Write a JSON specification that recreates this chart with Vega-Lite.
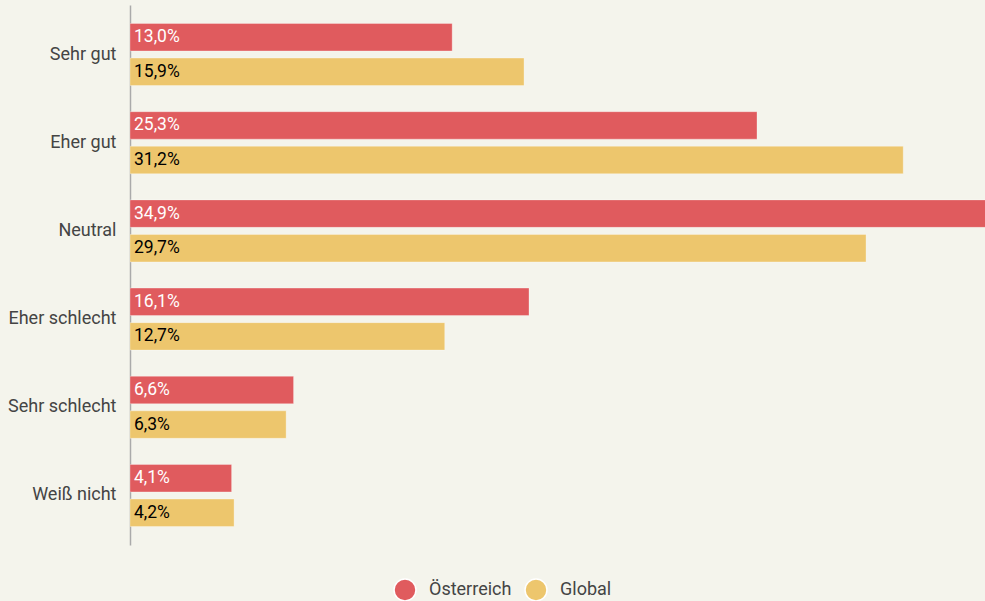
{
  "$schema": "https://vega.github.io/schema/vega-lite/v6.json",
  "width": 855,
  "height": 540,
  "autosize": {"type": "none"},
  "padding": {"left": 130, "top": 5, "right": 0, "bottom": 56},
  "background": "#F4F4EC",
  "config": {
    "view": {"stroke": null},
    "font": "Roboto",
    "locale": {"number": {"decimal": ",", "thousands": ".", "grouping": [3], "currency": ["", " €"]}}
  },
  "data": {
    "values": [
      {"kategorie": "Sehr gut", "serie": "Österreich", "wert": 0.130},
      {"kategorie": "Sehr gut", "serie": "Global", "wert": 0.159},
      {"kategorie": "Eher gut", "serie": "Österreich", "wert": 0.253},
      {"kategorie": "Eher gut", "serie": "Global", "wert": 0.312},
      {"kategorie": "Neutral", "serie": "Österreich", "wert": 0.349},
      {"kategorie": "Neutral", "serie": "Global", "wert": 0.297},
      {"kategorie": "Eher schlecht", "serie": "Österreich", "wert": 0.161},
      {"kategorie": "Eher schlecht", "serie": "Global", "wert": 0.127},
      {"kategorie": "Sehr schlecht", "serie": "Österreich", "wert": 0.066},
      {"kategorie": "Sehr schlecht", "serie": "Global", "wert": 0.063},
      {"kategorie": "Weiß nicht", "serie": "Österreich", "wert": 0.041},
      {"kategorie": "Weiß nicht", "serie": "Global", "wert": 0.042}
    ]
  },
  "encoding": {
    "y": {
      "field": "kategorie",
      "type": "nominal",
      "sort": ["Sehr gut", "Eher gut", "Neutral", "Eher schlecht", "Sehr schlecht", "Weiß nicht"],
      "scale": {"paddingInner": 0.297, "paddingOuter": 0.21},
      "axis": {
        "title": null,
        "ticks": false,
        "labelPadding": 14,
        "labelFontSize": 18,
        "labelColor": "#444444",
        "labelFont": "Roboto",
        "domainColor": "#AAAAAA",
        "domainWidth": 1.5
      }
    },
    "yOffset": {
      "field": "serie",
      "type": "nominal",
      "sort": ["Österreich", "Global"],
      "scale": {"paddingInner": 0.206}
    },
    "x": {
      "field": "wert",
      "type": "quantitative",
      "scale": {"domain": [0, 0.345]},
      "axis": null
    }
  },
  "layer": [
    {
      "mark": {"type": "bar", "clip": true, "stroke": "#FFFFFF", "strokeOpacity": 0.3, "strokeWidth": 1},
      "encoding": {
        "color": {
          "field": "serie",
          "type": "nominal",
          "sort": ["Österreich", "Global"],
          "scale": {"domain": ["Österreich", "Global"], "range": ["#E05B5E", "#EDC66D"]},
          "legend": {
            "title": null,
            "orient": "none",
            "direction": "horizontal",
            "legendX": 263,
            "legendY": 573,
            "symbolType": "circle",
            "symbolSize": 480,
            "symbolOpacity": 1,
            "labelFontSize": 18,
            "labelColor": "#444444",
            "labelFont": "Roboto",
            "columnPadding": 10,
            "labelOffset": 12
          }
        }
      }
    },
    {
      "mark": {"type": "text", "align": "left", "baseline": "middle", "dx": 4, "fontSize": 17.5, "font": "Roboto"},
      "encoding": {
        "x": {"datum": 0, "type": "quantitative"},
        "text": {"field": "wert", "type": "quantitative", "format": ".1%"},
        "color": {
          "condition": {"test": "datum.serie === 'Österreich'", "value": "#FFFFFF"},
          "value": "#000000"
        }
      }
    }
  ]
}
